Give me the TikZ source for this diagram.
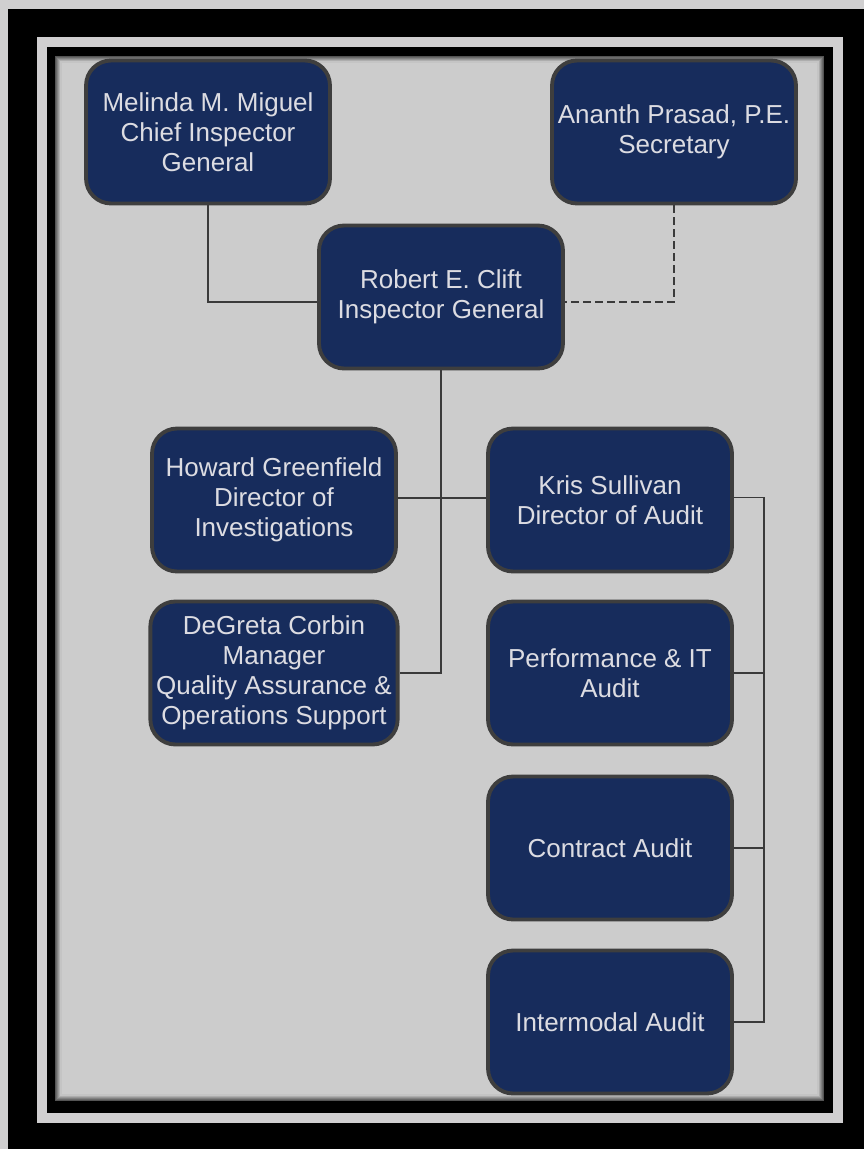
\documentclass[tikz,border=0pt]{standalone}
\usepackage{fontspec}
\setmainfont{Liberation Sans}
\usepackage{tikz}

\definecolor{pagegrey}{HTML}{D0CFD0}
\definecolor{panelgrey}{HTML}{CCCCCC}
\definecolor{boxfill}{HTML}{172C5C}
\definecolor{boxline}{HTML}{3E3E3E}
\definecolor{boxtext}{HTML}{DCDCE2}
\definecolor{wire}{HTML}{3A3A3A}

\begin{document}
\begin{tikzpicture}
  [x=0.02cm,y=-0.02cm,
   every node/.style={rectangle,rounded corners=0.5cm,fill=boxfill,draw=boxline,
     line width=2.2pt,minimum width=4.88cm,minimum height=2.86cm,align=center,
     text=boxtext,font=\fontsize{14.8}{17.1}\selectfont},
   link/.style={draw=wire,line width=0.9pt}]

  % frames
  \fill [pagegrey] (0,0) rectangle (864,1149);
  \fill [black] (8,9) rectangle (864,1149);
  \fill [pagegrey] (37,37) rectangle (843,1123);
  \fill [black] (47,47) rectangle (833,1113);
  \fill [panelgrey] (56,57) rectangle (823,1100);
  \foreach \i in {1,...,6}
    \draw [black!\the\numexpr 70-11*\i\relax!panelgrey,line width=0.04cm]
      (55+\i,56+\i) rectangle (824-\i,1101-\i);

  \node (n1) at (208,132) {Melinda M. Miguel\\Chief Inspector\\General};
  \node (n2) at (674,132) {Ananth Prasad, P.E.\\Secretary};
  \node (n3) at (441,297) {Robert E. Clift\\Inspector General};
  \node (n4) at (274,500) {Howard Greenfield\\Director of\\Investigations};
  \node (n5) at (610,500) {Kris Sullivan\\Director of Audit};
  \node (n6) at (274,673) {DeGreta Corbin\\Manager\\Quality Assurance \&\\Operations Support};
  \node (n7) at (610,673) {Performance \& IT\\Audit};
  \node (n8) at (610,848) {Contract Audit};
  \node (n9) at (610,1022) {Intermodal Audit};

  \draw [link] (n1) |- ([yshift=-0.1cm]n3.west);
  \draw [link,dash pattern=on 0.16cm off 0.08cm] (n2) |- ([yshift=-0.1cm]n3.east);
  \draw [link] (n3) |- (n6);
  \draw [link] ([yshift=0.04cm]n4.east) -- ([yshift=0.04cm]n5.west);

  \draw [link] ([yshift=0.05cm]n5.east) -- ++(30,0) |- (n9.east);
  \foreach \to in {n7,n8}
    \draw [link] (\to.east) -- ++(30,0);

\end{tikzpicture}
\end{document}
